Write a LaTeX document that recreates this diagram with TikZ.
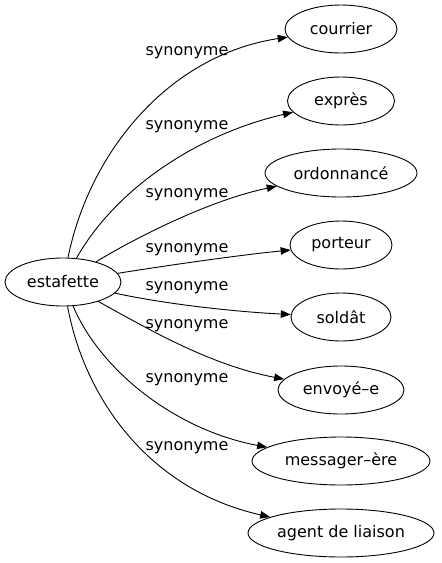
\documentclass[tikz,border=0pt]{standalone}
\usepackage{fontspec}
\setmainfont{DejaVu Sans}
\usetikzlibrary{shapes.geometric,arrows.meta}
\begin{document}
\begin{tikzpicture}[x=1pt,y=-1pt,
  word/.style={draw,ellipse,inner sep=0pt,minimum height=48pt,font=\fontsize{16}{18}\selectfont,line width=0.9pt},
  lbl/.style={font=\fontsize{16}{18}\selectfont,inner sep=0pt},
  syn/.style={draw,line width=0.9pt,-{Triangle[length=10pt,width=7.5pt]}}]
\useasboundingbox (0,0) rectangle (442,563);
\node[word,minimum width=116pt] (e) at (63,282) {estafette};
\node[word,minimum width=112pt] (c1) at (341,29) {courrier};
\node[word,minimum width=107pt] (c2) at (341,101) {exprès};
\node[word,minimum width=152pt] (c3) at (341,173) {ordonnancé};
\node[word,minimum width=102pt] (c4) at (341,245) {porteur};
\node[word,minimum width=100pt] (c5) at (341,317) {soldât};
\node[word,minimum width=126pt] (c6) at (341,390) {envoyé–e};
\node[word,minimum width=178pt] (c7) at (341,461) {messager–ère};
\node[word,minimum width=186pt] (c8) at (341,533) {agent de liaison};
\draw[syn] (e) .. controls (90,150) and (170,55) .. (c1);
\draw[syn] (e) .. controls (115,190) and (195,135) .. (c2);
\draw[syn] (e) .. controls (135,238) and (210,200) .. (c3);
\draw[syn] (e) .. controls (170,265) and (240,255) .. (c4);
\draw[syn] (e) .. controls (170,305) and (240,312) .. (c5);
\draw[syn] (e) .. controls (150,330) and (210,365) .. (c6);
\draw[syn] (e) .. controls (100,370) and (175,430) .. (c7);
\draw[syn] (e) .. controls (85,400) and (150,490) .. (c8);
\node[lbl] (l1) at (187,53) {synonyme};
\node[lbl] (l2) at (187,127) {synonyme};
\node[lbl] (l3) at (187,195) {synonyme};
\node[lbl] (l4) at (187,250) {synonyme};
\node[lbl] (l5) at (187,288) {synonyme};
\node[lbl] (l6) at (187,326) {synonyme};
\node[lbl] (l7) at (187,380) {synonyme};
\node[lbl] (l8) at (187,448) {synonyme};
\end{tikzpicture}
\end{document}
